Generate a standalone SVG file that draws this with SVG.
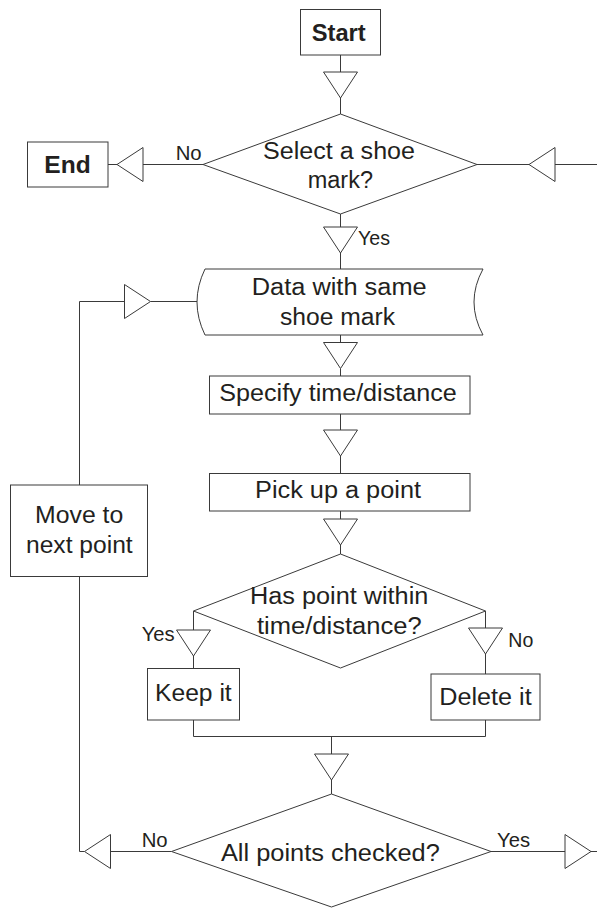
<svg xmlns="http://www.w3.org/2000/svg" width="597" height="908" viewBox="0 0 597 908">
<defs>
<style>
.shape{fill:#fff;stroke:#3a3a3a;stroke-width:1}
.tri{fill:#fff;stroke:#3a3a3a;stroke-width:1}
.ln{fill:none;stroke:#3a3a3a;stroke-width:1}
text{font-family:"Liberation Sans",Arial,sans-serif;fill:#231f20}
.t{font-size:23px}
.lb{font-size:20px}
.b{font-size:23px;font-weight:bold}
</style>
</defs>
<rect width="597" height="908" fill="#fff"/>
<g id="connectors">
<path class="ln" d="M340.5,55 V72 M340.5,98 V114"/>
<path class="ln" d="M108,164.5 H117 M143,164.5 H203"/>
<path class="ln" d="M477,164.5 H529 M555,164.5 H597"/>
<path class="ln" d="M340.5,214 V227 M340.5,253 V269"/>
<path class="ln" d="M340.5,335 V342.5 M340.5,368.5 V376"/>
<path class="ln" d="M340.5,414 V430 M340.5,456 V473.5"/>
<path class="ln" d="M340.5,511 V519 M340.5,545 V554"/>
<path class="ln" d="M193.5,611 V630 M193.5,656 V668.5"/>
<path class="ln" d="M485.5,611 V628 M485.5,654 V674"/>
<path class="ln" d="M193.5,720 V736.5 H485.5 V720"/>
<path class="ln" d="M331.5,736.5 V754 M331.5,780 V794"/>
<path class="ln" d="M171.5,851.5 H110.5 M84.5,851.5 H79.5 V576.5 M79.5,485 V301.5 H124.5 M150.5,301.5 H197"/>
<path class="ln" d="M491,851.5 H565 M591,851.5 H597"/>
<polygon class="tri" points="323.5,72 357.5,72 340.5,98"/>
<polygon class="tri" points="117,164.5 143,147.5 143,181.5"/>
<polygon class="tri" points="529,164.5 555,147.5 555,181.5"/>
<polygon class="tri" points="323.5,227 357.5,227 340.5,253"/>
<polygon class="tri" points="323.5,342.5 357.5,342.5 340.5,368.5"/>
<polygon class="tri" points="323.5,430 357.5,430 340.5,456"/>
<polygon class="tri" points="323.5,519 357.5,519 340.5,545"/>
<polygon class="tri" points="176.5,630 210.5,630 193.5,656"/>
<polygon class="tri" points="468.5,628 502.5,628 485.5,654"/>
<polygon class="tri" points="314.5,754 348.5,754 331.5,780"/>
<polygon class="tri" points="84.5,851.5 110.5,834.5 110.5,868.5"/>
<polygon class="tri" points="591,851.5 565,834.5 565,868.5"/>
<polygon class="tri" points="150.5,301.5 124.5,284.5 124.5,318.5"/>
<text class="lb" x="175.7" y="160" textLength="26" lengthAdjust="spacingAndGlyphs">No</text>
<text class="lb" x="358" y="245" textLength="32" lengthAdjust="spacingAndGlyphs">Yes</text>
<text class="lb" x="141.7" y="640.7" textLength="33" lengthAdjust="spacingAndGlyphs">Yes</text>
<text class="lb" x="508.3" y="646.7" textLength="25" lengthAdjust="spacingAndGlyphs">No</text>
<text class="lb" x="141.7" y="846.7" textLength="26" lengthAdjust="spacingAndGlyphs">No</text>
<text class="lb" x="497" y="846.7" textLength="33" lengthAdjust="spacingAndGlyphs">Yes</text>
</g>
<g id="start">
<rect class="shape" x="300.5" y="9.5" width="80" height="45.5"/>
<text class="b" x="311.7" y="40.5" textLength="54" lengthAdjust="spacingAndGlyphs">Start</text>
</g>
<g id="end">
<rect class="shape" x="27.5" y="142" width="80.5" height="45"/>
<text class="b" x="44.3" y="173" textLength="46.4" lengthAdjust="spacingAndGlyphs">End</text>
</g>
<g id="select">
<polygon class="shape" points="340.5,114 477,164.5 340.5,214 203,164.5"/>
<text class="t" x="263" y="158.5" textLength="152" lengthAdjust="spacingAndGlyphs">Select a shoe</text>
<text class="t" x="307.7" y="188" textLength="65.3" lengthAdjust="spacingAndGlyphs">mark?</text>
</g>
<g id="data">
<path class="shape" d="M205,269 H483 Q465,302 483,335 H205 Q189,302 205,269 Z"/>
<text class="t" x="251.7" y="295" textLength="175" lengthAdjust="spacingAndGlyphs">Data with same</text>
<text class="t" x="280" y="325" textLength="115" lengthAdjust="spacingAndGlyphs">shoe mark</text>
</g>
<g id="specify">
<rect class="shape" x="209.5" y="376" width="260.5" height="38"/>
<text class="t" x="219.3" y="401" textLength="237.4" lengthAdjust="spacingAndGlyphs">Specify time/distance</text>
</g>
<g id="pick">
<rect class="shape" x="209.5" y="473.5" width="260.5" height="37.5"/>
<text class="t" x="255" y="498.3" textLength="166" lengthAdjust="spacingAndGlyphs">Pick up a point</text>
</g>
<g id="move">
<rect class="shape" x="10.5" y="485" width="137" height="91.5"/>
<text class="t" x="35" y="523.3" textLength="88.3" lengthAdjust="spacingAndGlyphs">Move to</text>
<text class="t" x="26" y="553.3" textLength="106.7" lengthAdjust="spacingAndGlyphs">next point</text>
</g>
<g id="within">
<polygon class="shape" points="340.5,554 485.5,611 340.5,668 193.5,611"/>
<text class="t" x="250" y="604" textLength="178.3" lengthAdjust="spacingAndGlyphs">Has point within</text>
<text class="t" x="257" y="633.5" textLength="164.7" lengthAdjust="spacingAndGlyphs">time/distance?</text>
</g>
<g id="keep">
<rect class="shape" x="147.5" y="668.5" width="92" height="51.5"/>
<text class="t" x="155" y="700.7" textLength="76.7" lengthAdjust="spacingAndGlyphs">Keep it</text>
</g>
<g id="delete">
<rect class="shape" x="431" y="674" width="109" height="46"/>
<text class="t" x="439.3" y="705" textLength="92.4" lengthAdjust="spacingAndGlyphs">Delete it</text>
</g>
<g id="checked">
<polygon class="shape" points="331.5,794 491,851.5 331.5,907 171.5,851.5"/>
<text class="t" x="220.9" y="860.7" textLength="218.9" lengthAdjust="spacingAndGlyphs">All points checked?</text>
</g>
</svg>
